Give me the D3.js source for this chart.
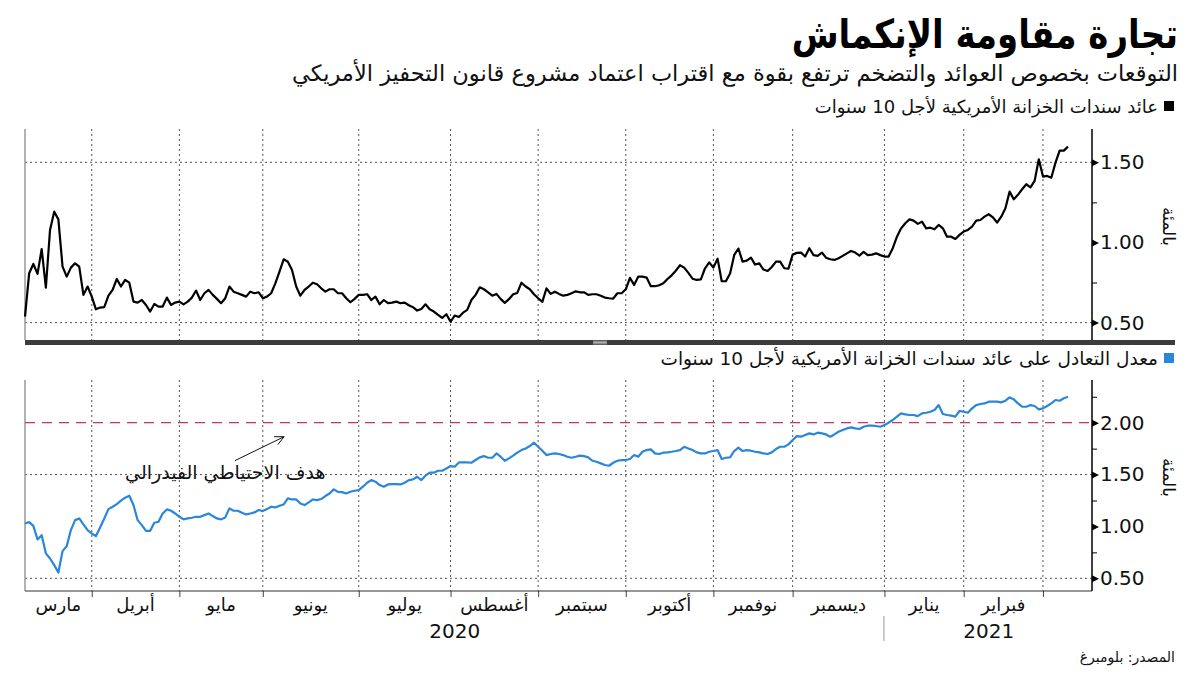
<!DOCTYPE html>
<html><head><meta charset="utf-8">
<script src="https://cdn.jsdelivr.net/npm/d3@7"></script>
<style>
html,body{margin:0;padding:0;background:#fff;}
svg{display:block;font-family:"DejaVu Sans",sans-serif;}
</style></head>
<body><svg id="c" width="1200" height="675"></svg>
<script>
// ---------- DATA ----------
const title = "تجارة مقاومة الإنكماش";
const subtitle = "التوقعات بخصوص العوائد والتضخم ترتفع بقوة مع اقتراب اعتماد مشروع قانون التحفيز الأمريكي";
const legendTop = "عائد سندات الخزانة الأمريكية لأجل 10 سنوات";
const legendBottom = "معدل التعادل على عائد سندات الخزانة الأمريكية لأجل 10 سنوات";
const unitLabel = "بالمئة";
const fedLabel = "هدف الاحتياطي الفيدرالي";
const sourceLabel = "المصدر: بلومبرغ";

// trading-day index of first day of each month (Apr 2020 ... Mar 2021)
const monthStarts = [16, 37, 57, 80, 102, 123, 144, 165, 184, 206, 225, 244];
const monthNames = ["مارس","أبريل","مايو","يونيو","يوليو","أغسطس","سبتمبر","أكتوبر","نوفمبر","ديسمبر","يناير","فبراير"];
const yearLabels = [{label:"2020", at:103}, {label:"2021", at:231}];
const yearDivider = 206;

const topMajorTicks = [0.5, 1.0, 1.5];
const topMinorTicks = [0.75, 1.25];
const bottomMajorTicks = [0.5, 1.0, 1.5, 2.0];
const bottomMinorTicks = [0.75, 1.25, 1.75, 2.25];
const gridValues = [0.5, 1.5];
const fedTarget = 2.0;

// 10-year Treasury yield, % (daily, Mar 9 2020 -> early Mar 2021)
const yield10y = [
0.537,0.808,0.866,0.804,0.959,0.718,1.078,1.192,1.144,0.849,
0.787,0.843,0.870,0.849,0.673,0.725,0.662,0.583,0.594,0.596,
0.668,0.704,0.772,0.725,0.766,0.749,0.631,0.625,0.641,0.610,
0.569,0.616,0.600,0.600,0.656,0.610,0.625,0.631,0.614,0.631,
0.656,0.700,0.641,0.683,0.704,0.673,0.648,0.621,0.652,0.725,
0.693,0.683,0.673,0.662,0.693,0.683,0.689,0.652,0.662,0.683,
0.745,0.818,0.895,0.880,0.828,0.725,0.668,0.704,0.725,0.749,
0.739,0.714,0.693,0.708,0.708,0.683,0.683,0.652,0.627,0.648,
0.673,0.673,0.677,0.641,0.662,0.614,0.641,0.621,0.625,0.631,
0.621,0.625,0.608,0.596,0.575,0.585,0.614,0.583,0.569,0.548,
0.529,0.552,0.506,0.544,0.535,0.562,0.579,0.641,0.673,0.720,
0.708,0.689,0.668,0.679,0.648,0.623,0.646,0.677,0.685,0.749,
0.725,0.708,0.677,0.652,0.629,0.714,0.679,0.693,0.679,0.668,
0.673,0.683,0.695,0.689,0.689,0.673,0.677,0.677,0.668,0.656,
0.652,0.650,0.683,0.683,0.708,0.779,0.735,0.787,0.787,0.781,
0.727,0.727,0.733,0.745,0.772,0.795,0.824,0.858,0.843,0.810,
0.774,0.766,0.770,0.839,0.876,0.843,0.899,0.758,0.758,0.806,
0.922,0.962,0.880,0.887,0.905,0.862,0.870,0.831,0.822,0.847,
0.880,0.880,0.839,0.837,0.924,0.935,
0.937,0.912,0.964,0.921,0.916,0.937,0.905,0.895,0.891,0.901,
0.916,0.932,0.947,0.937,0.918,0.941,0.921,0.924,0.932,0.921,
0.912,0.912,0.964,1.036,1.088,1.120,1.144,1.136,1.116,1.130,
1.088,1.092,1.082,1.109,1.088,1.036,1.036,1.022,1.047,1.068,
1.078,1.099,1.136,1.140,1.161,1.176,1.157,1.124,1.161,1.213,
1.317,1.269,1.297,1.332,1.363,1.344,1.384,1.519,1.411,1.415,
1.404,1.498,1.573,1.573,1.598
];

// 10-year breakeven inflation rate, %
const breakeven10y = [
1.029,1.042,1.006,0.875,0.916,0.740,0.691,0.627,0.556,0.762,
0.810,0.965,1.061,1.077,1.019,0.965,0.932,0.907,0.990,1.077,
1.167,1.190,1.215,1.248,1.277,1.296,1.206,1.061,1.013,0.958,
0.958,1.035,1.045,1.125,1.164,1.151,1.125,1.093,1.068,1.077,
1.084,1.093,1.093,1.109,1.125,1.100,1.077,1.068,1.087,1.174,
1.151,1.151,1.132,1.116,1.125,1.135,1.158,1.148,1.167,1.190,
1.183,1.199,1.212,1.270,1.260,1.260,1.222,1.206,1.232,1.260,
1.254,1.264,1.293,1.318,1.357,1.334,1.331,1.318,1.334,1.344,
1.350,1.383,1.421,1.447,1.431,1.399,1.383,1.405,1.408,1.408,
1.405,1.421,1.447,1.453,1.479,1.447,1.489,1.518,1.518,1.537,
1.537,1.559,1.582,1.576,1.617,1.617,1.617,1.614,1.640,1.666,
1.678,1.662,1.662,1.704,1.672,1.633,1.656,1.682,1.711,1.736,
1.752,1.775,1.807,1.768,1.730,1.688,1.698,1.704,1.698,1.688,
1.672,1.662,1.672,1.682,1.678,1.666,1.633,1.624,1.608,1.592,
1.585,1.614,1.633,1.640,1.640,1.650,1.688,1.672,1.720,1.736,
1.743,1.704,1.698,1.711,1.714,1.720,1.727,1.736,1.768,1.752,
1.736,1.714,1.704,1.704,1.720,1.727,1.736,1.650,1.662,1.666,
1.727,1.759,1.727,1.736,1.730,1.720,1.714,1.704,1.698,1.714,
1.746,1.768,1.768,1.791,1.833,1.871,
1.865,1.881,1.897,1.887,1.904,1.897,1.887,1.865,1.887,1.913,
1.929,1.945,1.955,1.945,1.939,1.961,1.971,1.971,1.968,1.961,
1.977,2.000,2.026,2.058,2.090,2.080,2.074,2.074,2.064,2.090,
2.096,2.106,2.122,2.170,2.084,2.074,2.068,2.058,2.113,2.106,
2.096,2.138,2.170,2.180,2.186,2.203,2.203,2.203,2.196,2.212,
2.244,2.225,2.186,2.154,2.154,2.170,2.161,2.129,2.138,2.161,
2.186,2.219,2.212,2.235,2.251
];

// ---------- LAYOUT ----------
const svg = d3.select("#c");
const X0 = 25, XEND = 1068, XAX = 1092;
const x = d3.scaleLinear().domain([0, 250]).range([X0, XEND]);

const yTop = d3.scaleLinear().domain([0.5, 1.5]).range([322.6, 162.3]);
const topPanel = {y0: 129, y1: 340};
const yBot = d3.scaleLinear().domain([0.5, 2.0]).range([578.3, 422.7]);
const botPanel = {y0: 380, y1: 591};

const AR = '"DejaVu Sans", sans-serif';
const NUM = '"DejaVu Sans", sans-serif';

// Title & subtitle
svg.append("text").attr("transform", "translate(1178,48) scale(0.85,1)").attr("text-anchor","end")
  .attr("font-family", AR).attr("font-weight","bold").attr("font-size", 40)
  .attr("fill","#000").text(title);
svg.append("text").attr("x", 1178).attr("y", 81).attr("text-anchor","end")
  .attr("font-family", AR).attr("font-size", 22.5).attr("fill","#111").text(subtitle);

function legend(yc, color, label, size){
  svg.append("rect").attr("x", 1164).attr("y", yc-5).attr("width", 10).attr("height", 10).attr("fill", color);
  svg.append("text").attr("x", 1158).attr("y", yc+7).attr("text-anchor","end")
    .attr("font-family", AR).attr("font-size", size).attr("fill","#111").text(label);
}
legend(106, "#000", legendTop, 18);
legend(358, "#2a86da", legendBottom, 18.5);

function panel(y, p, major, minor){
  const g = svg.append("g");
  g.selectAll(".vg").data(monthStarts).enter().append("line")
    .attr("x1", d=>x(d)).attr("x2", d=>x(d)).attr("y1", p.y0).attr("y2", p.y1)
    .attr("stroke","#555").attr("stroke-width",1).attr("stroke-dasharray","2,3");
  g.selectAll(".hg").data(gridValues).enter().append("line")
    .attr("x1", X0).attr("x2", XAX).attr("y1", d=>y(d)).attr("y2", d=>y(d))
    .attr("stroke","#555").attr("stroke-width",1).attr("stroke-dasharray","2,3");
  g.append("line").attr("x1", X0).attr("x2", X0).attr("y1", p.y0).attr("y2", p.y1)
    .attr("stroke","#999").attr("stroke-width",1.5);
  const ax = d3.axisRight(y).tickValues(major.concat(minor)).tickSize(5)
    .tickFormat(d => major.includes(d) ? d3.format(".2f")(d) : "");
  const ag = g.append("g").attr("transform", `translate(${XAX},0)`).call(ax);
  ag.select(".domain").remove();
  ag.selectAll(".tick line").attr("stroke","#000").attr("stroke-width",1);
  ag.selectAll(".tick").filter(d => major.includes(d)).select("line").remove();
  ag.selectAll(".tick").filter(d => major.includes(d)).append("path")
    .attr("d","M0,-3.5L7,0L0,3.5Z").attr("fill","#000");
  ag.selectAll(".tick text").attr("x", 8).attr("font-family", NUM).attr("font-size", 20).attr("fill","#111");
  g.append("line").attr("x1", XAX).attr("x2", XAX).attr("y1", p.y0).attr("y2", p.y1)
    .attr("stroke","#000").attr("stroke-width",1.5);
  g.append("text").attr("transform", `translate(1163,${(p.y0+p.y1)/2 - 8}) rotate(90)`)
    .attr("text-anchor","middle").attr("font-family", AR).attr("font-size", 17).attr("fill","#111").text(unitLabel);
  return g;
}

const gTop = panel(yTop, topPanel, topMajorTicks, topMinorTicks);
const gBot = panel(yBot, botPanel, bottomMajorTicks, bottomMinorTicks);

gBot.append("line").attr("x1", X0).attr("x2", XAX).attr("y1", yBot(fedTarget)).attr("y2", yBot(fedTarget))
  .attr("stroke","#c8336c").attr("stroke-width",1.2).attr("stroke-dasharray","10,7");

const lineTop = d3.line().x((d,i)=>x(i)).y(d=>yTop(d));
gTop.append("path").datum(yield10y).attr("d", lineTop).attr("fill","none")
  .attr("stroke","#000").attr("stroke-width",2.2).attr("stroke-linejoin","round");
const lineBot = d3.line().x((d,i)=>x(i)).y(d=>yBot(d));
gBot.append("path").datum(breakeven10y).attr("d", lineBot).attr("fill","none")
  .attr("stroke","#2a86da").attr("stroke-width",2.2).attr("stroke-linejoin","round");

// separator bar
svg.append("rect").attr("x", X0).attr("y", 340).attr("width", 1175-X0).attr("height", 5).attr("fill","#3c3c3c");
svg.append("rect").attr("x", 593).attr("y", 340.5).attr("width", 14).attr("height", 4).attr("fill","#8a8a8a");
svg.append("line").attr("x1",594).attr("x2",606).attr("y1",342.5).attr("y2",342.5).attr("stroke","#bbb").attr("stroke-width",0.8);

// bottom x axis
const xa = d3.axisBottom(x).tickValues(monthStarts).tickSize(6).tickFormat("");
const xg = svg.append("g").attr("transform", `translate(0,${botPanel.y1})`).call(xa);
xg.select(".domain").remove();
xg.selectAll(".tick line").attr("stroke","#444");
svg.append("line").attr("x1", X0).attr("x2", XAX).attr("y1", botPanel.y1).attr("y2", botPanel.y1)
  .attr("stroke","#333").attr("stroke-width",1.2);

const bounds = [0].concat(monthStarts);
svg.selectAll(".ml").data(monthNames).enter().append("text")
  .attr("x", (d,i)=> x((bounds[i]+bounds[i+1])/2)).attr("y", 611)
  .attr("text-anchor","middle").attr("font-family", AR).attr("font-size", 18).attr("fill","#111").text(d=>d);
svg.selectAll(".yl").data(yearLabels).enter().append("text")
  .attr("x", d => x(d.at)).attr("y", 638)
  .attr("text-anchor","middle").attr("font-family", NUM).attr("font-size", 20).attr("fill","#111").text(d=>d.label);
svg.append("line").attr("x1", x(yearDivider)-0.5).attr("x2", x(yearDivider)-0.5).attr("y1", 616).attr("y2", 641)
  .attr("stroke","#999").attr("stroke-width",1);

// annotation
const annFrom = [50.3, 1.634], annTo = [62.1, 1.865];
const ax1 = x(annFrom[0]), ay1 = yBot(annFrom[1]), ax2 = x(annTo[0]), ay2 = yBot(annTo[1]);
svg.append("line").attr("x1",ax1).attr("y1",ay1).attr("x2",ax2).attr("y2",ay2).attr("stroke","#111").attr("stroke-width",1);
const ang = Math.atan2(ay2-ay1, ax2-ax1), hl = 10;
[0.45,-0.45].forEach(s=>{
  svg.append("line").attr("x1",ax2).attr("y1",ay2)
    .attr("x2",ax2 - hl*Math.cos(ang+s)).attr("y2",ay2 - hl*Math.sin(ang+s))
    .attr("stroke","#111").attr("stroke-width",1);
});
svg.append("text").attr("x", x(48)).attr("y", yBot(1.458)).attr("text-anchor","middle")
  .attr("font-family", AR).attr("font-size", 19).attr("fill","#111").text(fedLabel);

// source
svg.append("text").attr("x", 1175).attr("y", 662).attr("text-anchor","end")
  .attr("font-family", AR).attr("font-size", 14).attr("fill","#111").text(sourceLabel);
</script></body></html>
